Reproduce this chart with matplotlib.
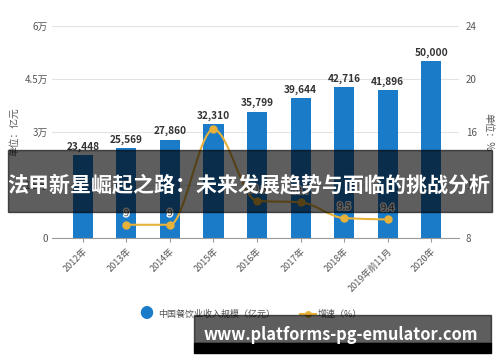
import numpy as np
import matplotlib.pyplot as plt
from matplotlib.path import Path
from matplotlib.patches import PathPatch, Rectangle
import matplotlib.patheffects as pe

plt.rcParams['font.family'] = ['Noto Sans CJK SC', 'DejaVu Sans']

# data
years = ['2012年', '2013年', '2014年', '2015年', '2016年', '2017年', '2018年', '2019年前11月', '2020年']
revenue = [23448, 25569, 27860, 32310, 35799, 39644, 42716, 41896, 50000]
growth_idx = [1, 2, 3, 4, 5, 6, 7]
growth = [9.0, 9.0, 16.2, 10.8, 10.7, 9.5, 9.4]
growth_lbl = ['9', '9', '', '10.8', '10.7', '9.5', '9.4']

bar_c = '#1a7bc9'
line_c = '#e8b13a'
txt_c = '#555555'

fig = plt.figure(figsize=(5, 3.62), dpi=100)
ax = fig.add_axes([0.104, 0.3425, 0.814, 0.5855])
x = np.arange(len(years))
ax.bar(x, revenue, width=0.46, color=bar_c, zorder=2)
for xi, v in zip(x, revenue):
    ax.text(xi, v + 900, f'{v:,}', ha='center', va='bottom', fontsize=7.3,
            fontweight='bold', color='#333333', zorder=5)

ax.set_xlim(-0.71, 8.64)
ax.set_ylim(0, 60000)
ax.set_yticks([0, 15000, 30000, 45000, 60000])
ax.set_yticklabels(['0', '1.5万', '3万', '4.5万', '6万'])
ax.grid(axis='y', color='#e3e3e3', lw=0.8, zorder=0)
ax.set_xticks(x)
ax.set_xticklabels(years, rotation=45, ha='right', rotation_mode='anchor')
for s in ['top', 'right', 'left']:
    ax.spines[s].set_visible(False)
ax.spines['bottom'].set_color('#999999')
ax.tick_params(axis='y', length=0, labelsize=7, labelcolor=txt_c, pad=3)
ax.tick_params(axis='x', length=3, color='#999999', labelsize=6.5, labelcolor=txt_c, pad=3)
ax.set_ylabel('单位：亿元', fontsize=7, color=txt_c, labelpad=4)

ax2 = ax.twinx()
ax2.set_ylim(8, 24)
ax2.set_yticks([8, 12, 16, 20, 24])
for s in ax2.spines.values():
    s.set_visible(False)
ax2.tick_params(axis='y', length=0, labelsize=7, labelcolor=txt_c, pad=5)
ax2.set_ylabel('单位：%', fontsize=7, color=txt_c, rotation=270, labelpad=12)

# smooth monotone curve through growth points, drawn as bezier segments
px = np.array(growth_idx, dtype=float)
py = np.array(growth, dtype=float)
n = len(px)
d = np.diff(py) / np.diff(px)
m = np.zeros(n)
m[0], m[-1] = d[0], d[-1]
for i in range(1, n - 1):
    if d[i - 1] * d[i] > 0:
        m[i] = 2 / (1 / d[i - 1] + 1 / d[i])
verts = [(px[0], py[0])]
codes = [Path.MOVETO]
for i in range(n - 1):
    h = px[i + 1] - px[i]
    verts += [(px[i] + h / 3, py[i] + m[i] * h / 3),
              (px[i + 1] - h / 3, py[i + 1] - m[i + 1] * h / 3),
              (px[i + 1], py[i + 1])]
    codes += [Path.CURVE4] * 3
ax2.add_patch(PathPatch(Path(verts, codes), fc='none', ec=line_c, lw=1.5, zorder=3))
ax2.plot(growth_idx, growth, 'o', color=line_c, ms=5, zorder=4)
for xi, v, t in zip(growth_idx, growth, growth_lbl):
    ax2.text(xi, v + 0.5, t, ha='center', va='bottom', fontsize=7, color='#444444', zorder=5,
             path_effects=[pe.withStroke(linewidth=2, foreground='white')])

# legend
fig.text(0.292, 0.133, '●', color=bar_c, fontsize=10, ha='center', va='center')
fig.text(0.316, 0.133, '中国餐饮业收入规模（亿元）', color=txt_c, fontsize=6.5, va='center')
fig.lines.append(plt.Line2D([0.6, 0.632], [0.133, 0.133], color=line_c, lw=1.5, transform=fig.transFigure))
fig.lines.append(plt.Line2D([0.616], [0.133], marker='o', color=line_c, ms=4, transform=fig.transFigure))
fig.text(0.636, 0.133, '增速（%）', color=txt_c, fontsize=6.5, va='center')

# title banner overlay
fig.patches.append(Rectangle((0.016, 1 - 212 / 362), 0.968, 62 / 362, transform=fig.transFigure,
                             color='black', alpha=0.63, zorder=10))
fig.text(0.498, 1 - 185 / 362, '法甲新星崛起之路：未来发展趋势与面临的挑战分析', color='white',
         fontsize=15.1, fontweight='bold', ha='center', va='center', zorder=11)

# site banner
fig.patches.append(Rectangle((194 / 500, 1 - 343 / 362), 297 / 500, 28 / 362, transform=fig.transFigure,
                             color='black', alpha=0.63, zorder=10))
fig.patches.append(Rectangle((194 / 500, 1 - 353 / 362), 297 / 500, 10 / 362, transform=fig.transFigure,
                             color='black', zorder=10))
fig.text(341 / 500, 1 - 335 / 362, 'www.platforms-pg-emulator.com', color='white',
         fontsize=11.8, fontweight='bold', ha='center', va='center', zorder=11)

fig.savefig('out.png', dpi=100)
